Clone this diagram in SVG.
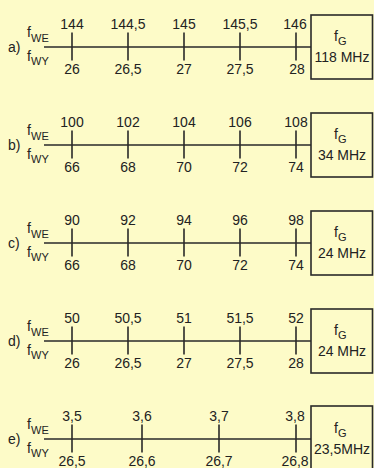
<svg xmlns="http://www.w3.org/2000/svg" width="374" height="468" viewBox="0 0 374 468">
<style>
text{font-family:"Liberation Sans",Arial,sans-serif;font-size:14px;fill:#222}
.c{text-anchor:middle}
.s{font-size:11px}
.ln{stroke:#2a2a2a;stroke-width:1.6;fill:none}
.box{stroke:#2a2a2a;stroke-width:1.6;fill:none}
</style>
<rect width="374" height="468" fill="#FDFBC8"/>
<defs>
<g id="ticks">
<path class="ln" d="M72,-14.5V13.5M128,-14.5V13.5M184,-14.5V13.5M240,-14.5V13.5M296,-14.5V13.5"/>
</g>
<g id="side">
<text x="27" y="-10">f</text><text class="s" x="31" y="-5">WE</text>
<text x="27" y="14">f</text><text class="s" x="31" y="18">WY</text>
</g>
</defs>
<g id="connectors">
<path class="ln" d="M44,47H311M44,145H311M44,243H311M44,341H311M44,439H311"/>
<use href="#ticks" y="47"/><use href="#ticks" y="145"/><use href="#ticks" y="243"/><use href="#ticks" y="341"/>
<path class="ln" d="M72,424.5V452.5M142,424.5V452.5M219,424.5V452.5M296,424.5V452.5"/>
</g>
<g id="row-a" transform="translate(0,47)">
<text x="8" y="5">a)</text>
<use href="#side"/>
<text class="c" x="72" y="-18">144</text><text class="c" x="128" y="-18">144,5</text><text class="c" x="184" y="-18">145</text><text class="c" x="240" y="-18">145,5</text><text class="c" x="295" y="-18">146</text>
<text class="c" x="72" y="27">26</text><text class="c" x="128" y="27">26,5</text><text class="c" x="184" y="27">27</text><text class="c" x="240" y="27">27,5</text><text class="c" x="297" y="27">28</text>
</g>
<g id="box-a" transform="translate(0,47)">
<rect class="box" x="311" y="-32" width="61.5" height="64"/>
<text x="334" y="-6">f</text><text class="s" x="338" y="-2">G</text>
<text class="c" x="342" y="15">118 MHz</text>
</g>
<g id="row-b" transform="translate(0,145)">
<text x="8" y="5">b)</text>
<use href="#side"/>
<text class="c" x="72" y="-18">100</text><text class="c" x="128" y="-18">102</text><text class="c" x="184" y="-18">104</text><text class="c" x="240" y="-18">106</text><text class="c" x="296" y="-18">108</text>
<text class="c" x="72" y="27">66</text><text class="c" x="128" y="27">68</text><text class="c" x="184" y="27">70</text><text class="c" x="240" y="27">72</text><text class="c" x="296" y="27">74</text>
</g>
<g id="box-b" transform="translate(0,145)">
<rect class="box" x="311" y="-32" width="61.5" height="64"/>
<text x="334" y="-6">f</text><text class="s" x="338" y="-2">G</text>
<text class="c" x="342" y="15">34 MHz</text>
</g>
<g id="row-c" transform="translate(0,243)">
<text x="8" y="5">c)</text>
<use href="#side"/>
<text class="c" x="72" y="-18">90</text><text class="c" x="128" y="-18">92</text><text class="c" x="184" y="-18">94</text><text class="c" x="240" y="-18">96</text><text class="c" x="296" y="-18">98</text>
<text class="c" x="72" y="27">66</text><text class="c" x="128" y="27">68</text><text class="c" x="184" y="27">70</text><text class="c" x="240" y="27">72</text><text class="c" x="296" y="27">74</text>
</g>
<g id="box-c" transform="translate(0,243)">
<rect class="box" x="311" y="-32" width="61.5" height="64"/>
<text x="334" y="-6">f</text><text class="s" x="338" y="-2">G</text>
<text class="c" x="342" y="15">24 MHz</text>
</g>
<g id="row-d" transform="translate(0,341)">
<text x="8" y="5">d)</text>
<use href="#side"/>
<text class="c" x="72" y="-18">50</text><text class="c" x="128" y="-18">50,5</text><text class="c" x="184" y="-18">51</text><text class="c" x="240" y="-18">51,5</text><text class="c" x="296" y="-18">52</text>
<text class="c" x="72" y="27">26</text><text class="c" x="128" y="27">26,5</text><text class="c" x="184" y="27">27</text><text class="c" x="240" y="27">27,5</text><text class="c" x="296" y="27">28</text>
</g>
<g id="box-d" transform="translate(0,341)">
<rect class="box" x="311" y="-32" width="61.5" height="64"/>
<text x="334" y="-6">f</text><text class="s" x="338" y="-2">G</text>
<text class="c" x="342" y="15">24 MHz</text>
</g>
<g id="row-e" transform="translate(0,439)">
<text x="8" y="5">e)</text>
<use href="#side"/>
<text class="c" x="72" y="-18">3,5</text><text class="c" x="142" y="-18">3,6</text><text class="c" x="219" y="-18">3,7</text><text class="c" x="295" y="-18">3,8</text>
<text class="c" x="72" y="27">26,5</text><text class="c" x="142" y="27">26,6</text><text class="c" x="219" y="27">26,7</text><text class="c" x="295" y="27">26,8</text>
</g>
<g id="box-e" transform="translate(0,439)">
<rect class="box" x="311" y="-33" width="61.5" height="64"/>
<text x="334" y="-6">f</text><text class="s" x="338" y="-2">G</text>
<text class="c" x="342" y="15">23,5MHz</text>
</g>
</svg>
